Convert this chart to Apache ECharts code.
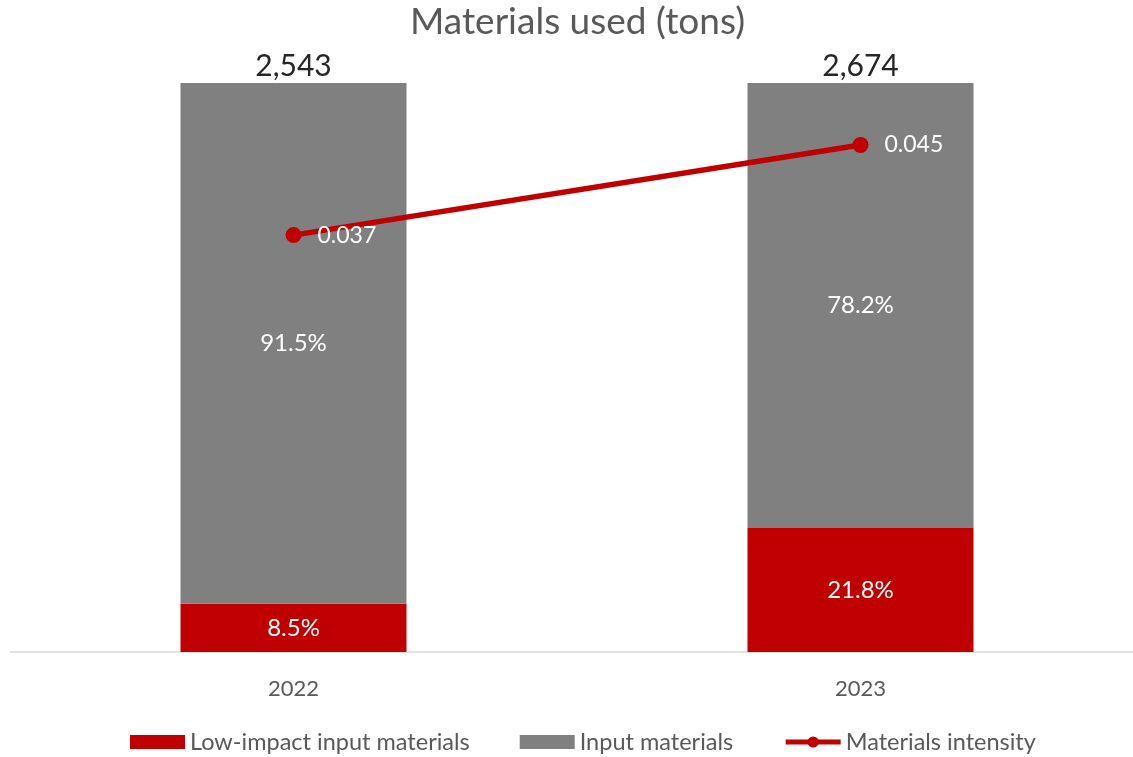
<!DOCTYPE html>
<html>
<head>
<meta charset="utf-8">
<script src="https://cdn.jsdelivr.net/npm/echarts@6/dist/echarts.min.js"></script>
<style>
  html, body { margin: 0; padding: 0; background: #fff; }
  #chart { width: 1133px; height: 757px; }
</style>
</head>
<body>
<div id="chart"></div>
<script>
// Years shown on the category axis
const years = ['2022', '2023'];
// Share of total materials (percent)
const lowImpactShare = [8.5, 21.8];
const inputShare = [91.5, 78.2];
// Total materials used (tons)
const totalTons = [2543, 2674];
// Materials intensity
const intensity = [0.037, 0.045];

const FONT = 'Lato';
const RED = '#c00000';
const GREY = '#808080';
const TEXT_GREY = '#595959';

const chart = echarts.init(document.getElementById('chart'));

const pctLabel = {
  show: true, position: 'inside', color: '#fff',
  fontFamily: FONT, fontSize: 24,
  formatter: p => p.value.toFixed(1) + '%'
};

chart.setOption({
  backgroundColor: '#ffffff',
  textStyle: { fontFamily: FONT },
  title: {
    text: 'Materials used (tons)',
    left: 405,
    top: -1,
    textStyle: { fontFamily: FONT, fontSize: 37, fontWeight: 'normal', color: TEXT_GREY }
  },
  legend: {
    data: [
      { name: 'Low-impact input materials', icon: 'rect' },
      { name: 'Input materials', icon: 'rect' },
      { name: 'Materials intensity', lineStyle: { width: 5 } }
    ],
    top: 725,
    left: 125,
    itemWidth: 55,
    itemHeight: 14,
    itemGap: 50,
    textStyle: { fontFamily: FONT, fontSize: 23.5, color: TEXT_GREY }
  },
  grid: {
    left: 10, width: 1134, top: 83, bottom: 105,
    containLabel: false, outerBoundsMode: 'none'
  },
  xAxis: {
    type: 'category',
    data: years,
    axisLine: { lineStyle: { color: '#d9d9d9', width: 1.5 } },
    axisTick: { show: false },
    axisLabel: { fontFamily: FONT, fontSize: 22, color: TEXT_GREY, margin: 26 }
  },
  yAxis: [
    { type: 'value', min: 0, max: 100, show: false },
    { type: 'value', min: 0, max: 0.0505, show: false }
  ],
  series: [
    {
      name: 'Low-impact input materials',
      type: 'bar',
      stack: 'share',
      barWidth: 226,
      data: lowImpactShare,
      itemStyle: { color: RED },
      label: pctLabel
    },
    {
      name: 'Input materials',
      type: 'bar',
      stack: 'share',
      data: inputShare,
      itemStyle: { color: GREY },
      label: pctLabel
    },
    {
      // zero-height cap carrying the total tonnage above each bar
      name: 'Total',
      type: 'bar',
      stack: 'share',
      data: totalTons.map(() => 0),
      itemStyle: { color: 'transparent' },
      silent: true,
      label: {
        show: true, position: 'top', distance: 2, color: '#262626',
        fontFamily: FONT, fontSize: 30,
        formatter: p => totalTons[p.dataIndex].toLocaleString('en-US')
      }
    },
    {
      name: 'Materials intensity',
      type: 'line',
      yAxisIndex: 1,
      data: intensity,
      symbol: 'circle',
      symbolSize: 16,
      lineStyle: { color: RED, width: 5.5 },
      itemStyle: { color: RED },
      label: {
        show: true, position: 'right', distance: 16, color: '#fff',
        fontFamily: FONT, fontSize: 23,
        formatter: p => p.value.toFixed(3)
      },
      z: 5
    }
  ]
});
</script>
</body>
</html>
